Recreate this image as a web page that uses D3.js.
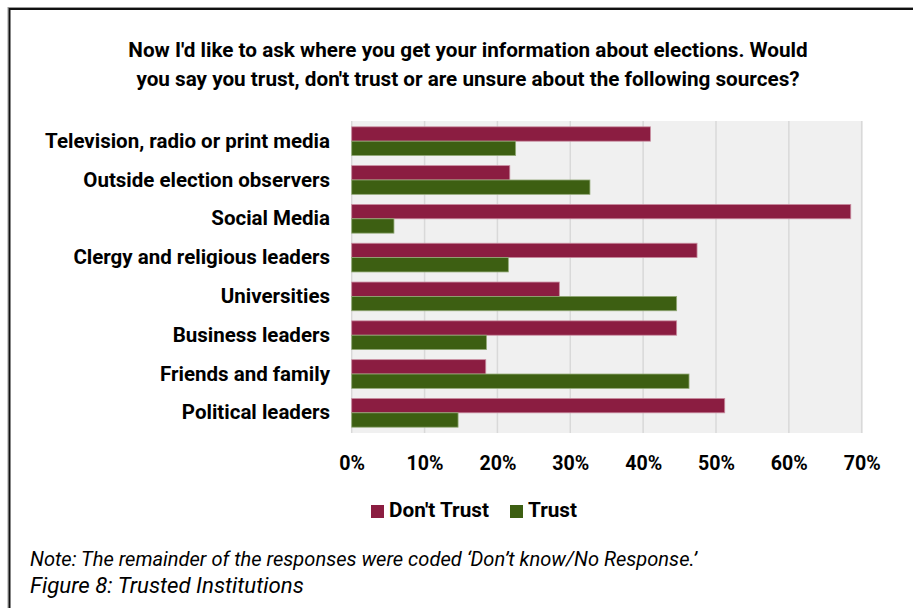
<!DOCTYPE html>
<html>
<head>
<meta charset="utf-8">
<script src="https://cdn.jsdelivr.net/npm/d3@7"></script>
<style>
  html, body { margin: 0; padding: 0; background: #fff; }
  svg { display: block; }
  text { font-family: Roboto, "Open Sans", "Liberation Sans", sans-serif; fill: #000; }
</style>
</head>
<body>
<svg id="chart" width="913" height="608"></svg>
<script>
const titleLines = [
  "Now I'd like to ask where you get your information about elections. Would",
  "you say you trust, don't trust or are unsure about the following sources?"
];
const categories = [
  "Television, radio or print media",
  "Outside election observers",
  "Social Media",
  "Clergy and religious leaders",
  "Universities",
  "Business leaders",
  "Friends and family",
  "Political leaders"
];
const seriesNames = ["Don't Trust", "Trust"];
const dontTrust = [41.0, 21.7, 68.5, 47.4, 28.5, 44.6, 18.4, 51.2];
const trust =     [22.5, 32.7, 5.8, 21.5, 44.6, 18.5, 46.3, 14.6];
const tickValues = [0, 10, 20, 30, 40, 50, 60, 70];
const colors = ["#8B1D41", "#3D5F12"];
const strokes = ["#C98DA0", "#93AA77"];
const note = "Note: The remainder of the responses were coded \u2018Don\u2019t know/No Response.\u2019";
const caption = "Figure 8: Trusted Institutions";

const svg = d3.select("#chart");

// scale a group of texts so that a reference text reaches a target width
function fitGroup(sel, refNode, target) {
  const base = parseFloat(d3.select(refNode).attr("font-size"));
  const w = refNode.getComputedTextLength();
  if (w > 0) sel.attr("font-size", base * target / w);
}

// outer frame (right and bottom edges lie outside the picture)
svg.append("rect").attr("x", 8).attr("y", 7.5).attr("width", 960).attr("height", 700)
  .attr("fill", "none").attr("stroke", "#9a9a9a").attr("stroke-width", 1);
svg.append("rect").attr("x", 9.5).attr("y", 9).attr("width", 960).attr("height", 700)
  .attr("fill", "none").attr("stroke", "#111").attr("stroke-width", 2);

// title
const title = svg.append("g").selectAll("text").data(titleLines).join("text")
  .attr("x", 468).attr("y", (d, i) => 57 + i * 29)
  .attr("text-anchor", "middle")
  .attr("font-weight", "bold").attr("font-size", 18)
  .text(d => d);
fitGroup(title, title.nodes()[0], 680);

const x = d3.scaleLinear().domain([0, 70]).range([351.7, 861.7]);
const y = d3.scaleBand().domain(categories).range([121, 433]).paddingInner(0.26).paddingOuter(0.15);
const sub = d3.scaleBand().domain(seriesNames).range([0, y.bandwidth()]);

// plot background
svg.append("rect").attr("x", x(0)).attr("y", 121).attr("width", x(70) - x(0) + 1).attr("height", 312)
  .attr("fill", "#F0F0F0");

// gridlines
svg.append("g").selectAll("line").data(tickValues).join("line")
  .attr("x1", d => x(d)).attr("x2", d => x(d)).attr("y1", 121).attr("y2", 433)
  .attr("stroke", "#D9D9D9").attr("stroke-width", 1.5);

// bars
const rows = categories.map((c, i) => ({ c, vals: [dontTrust[i], trust[i]] }));
const grp = svg.append("g").selectAll("g").data(rows).join("g")
  .attr("transform", d => `translate(0,${y(d.c)})`);
grp.selectAll("rect").data(d => d.vals.map((v, j) => ({ v, j })))
  .join("rect")
  .attr("x", x(0))
  .attr("y", d => sub(seriesNames[d.j]))
  .attr("width", d => x(d.v) - x(0))
  .attr("height", sub.bandwidth())
  .attr("fill", d => colors[d.j])
  .attr("stroke", d => strokes[d.j]).attr("stroke-width", 0.8);

// category axis
const yAxis = svg.append("g").attr("transform", `translate(${x(0)},0)`)
  .call(d3.axisLeft(y).tickSize(0).tickPadding(21.7));
yAxis.select(".domain").remove();
const yLabels = yAxis.selectAll("text").attr("font-size", 18).attr("font-weight", "bold")
  .attr("fill", "#000").style("font-family", "Roboto, 'Open Sans', sans-serif");
fitGroup(yLabels, yLabels.nodes()[0], 285);

// value axis
const xAxis = svg.append("g").attr("transform", `translate(0,433)`)
  .call(d3.axisBottom(x).tickValues(tickValues).tickFormat(d => d + "%").tickSize(0).tickPadding(0));
xAxis.select(".domain").remove();
const xLabels = xAxis.selectAll("text").attr("font-size", 18).attr("font-weight", "bold")
  .attr("fill", "#000").attr("dy", null).attr("y", 37)
  .style("font-family", "Roboto, 'Open Sans', sans-serif");
fitGroup(xLabels, xLabels.nodes()[7], 37);

// legend
const legend = svg.append("g");
const legendX = [371, 510];
const legendTexts = [];
seriesNames.forEach((s, i) => {
  legend.append("rect").attr("x", legendX[i]).attr("y", 505).attr("width", 13).attr("height", 13)
    .attr("fill", colors[i]);
  legendTexts.push(legend.append("text").attr("x", legendX[i] + 18).attr("y", 517)
    .attr("font-size", 18).attr("font-weight", "bold").text(s).node());
});
fitGroup(d3.selectAll(legendTexts), legendTexts[0], 100);

// note + caption
const noteT = svg.append("text").attr("x", 30).attr("y", 566).attr("font-size", 16)
  .attr("font-style", "italic").text(note);
fitGroup(noteT, noteT.node(), 667);
const capT = svg.append("text").attr("x", 30).attr("y", 593).attr("font-size", 18)
  .attr("font-style", "italic").text(caption);
fitGroup(capT, capT.node(), 274);
</script>
</body>
</html>
